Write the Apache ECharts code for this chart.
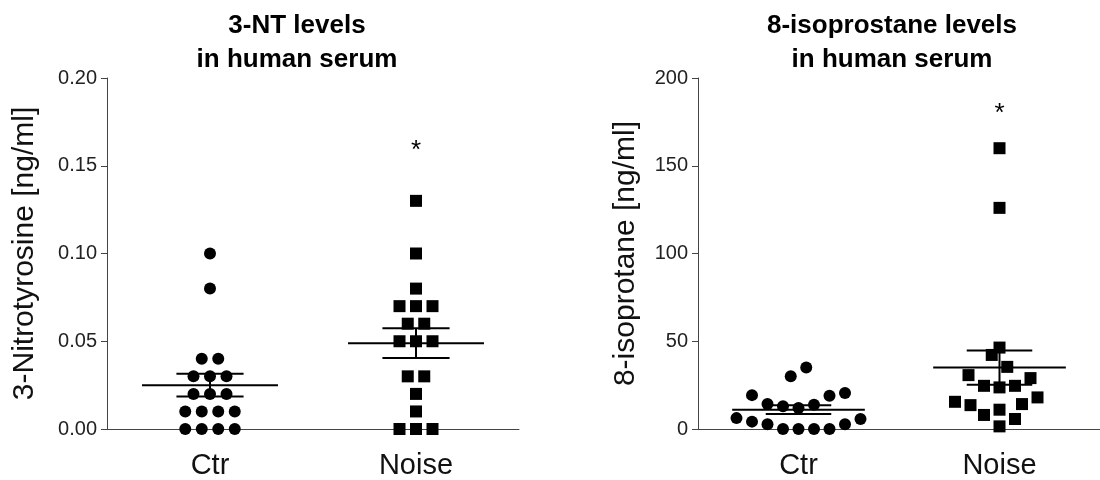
<!DOCTYPE html>
<html>
<head>
<meta charset="utf-8">
<script src="https://cdn.jsdelivr.net/npm/echarts@6.0.0/dist/echarts.min.js"></script>
<style>
  html, body { margin: 0; padding: 0; background: #fff; }
  #chart-container { width: 1100px; height: 480px; }
</style>
</head>
<body>
<div id="chart-container"></div>
<script>
// groups on the x axis
var categories = ['Ctr', 'Noise'];

// 3-Nitrotyrosine [ng/ml]
var ntCtr = [0, 0, 0, 0, 0.01, 0.01, 0.01, 0.01, 0.02, 0.02, 0.02, 0.03, 0.03, 0.03, 0.04, 0.04, 0.08, 0.10];
var ntNoise = [0, 0, 0, 0.01, 0.02, 0.03, 0.03, 0.05, 0.05, 0.05, 0.06, 0.06, 0.07, 0.07, 0.07, 0.08, 0.10, 0.13];
var ntTicks = [0, 0.05, 0.10, 0.15, 0.20];
var ntStar = 0.161;

// 8-isoprostane [ng/ml]
var isoCtr = [0, 0, 0, 0, 2.7, 2.7, 4.2, 5.7, 6.2, 12, 12.9, 13.8, 14.2, 19, 19.3, 20.5, 30, 35];
var isoNoise = [1.5, 5.7, 8, 11, 13.6, 14.2, 15.5, 18, 23.7, 24.6, 24.6, 29, 30.7, 35.4, 42.2, 46.4, 126, 160];
var isoTicks = [0, 50, 100, 150, 200];
var isoStar = 182;

var FONT = '"Liberation Sans", Arial, sans-serif';
var GRID_TOP = 78, GRID_H = 352;

// lay points out side by side like a column scatter (rows, alternating sides)
function swarm(values, cat, pxPerUnit, gap) {
  var sorted = values.slice().sort(function (a, b) { return a - b; });
  var rows = [];
  sorted.forEach(function (v) {
    var last = rows[rows.length - 1];
    if (last && (v - last[0]) * pxPerUnit < gap) last.push(v);
    else rows.push([v]);
  });
  var placed = [];
  var out = [];
  rows.forEach(function (row, r) {
    var side = r % 2 === 0 ? 1 : -1;
    var shift = row.length % 2 === 0 ? -side * gap / 2 : 0;
    var outer = {};
    outer[1] = row.length % 2 === 0 ? null : 0;
    outer[-1] = outer[1];
    var rowPts = [];
    row.forEach(function (v, i) {
      var k = Math.ceil(i / 2) * (i % 2 === 1 ? side : -side);
      var dx = k * gap + shift;
      var dir = dx > 0 ? 1 : (dx < 0 ? -1 : 0);
      if (dir !== 0) {
        if (outer[dir] !== null) dx = dir * Math.max(Math.abs(dx), Math.abs(outer[dir]) + gap);
        var hit = true;
        while (hit) {
          hit = placed.some(function (p) {
            var ddx = dx - p[1], ddy = (v - p[0]) * pxPerUnit;
            return Math.sqrt(ddx * ddx + ddy * ddy) < gap + 1;
          });
          if (hit) dx += dir * 0.5;
        }
        outer[dir] = dx;
      }
      rowPts.push([v, dx]);
      out.push([cat, v, dx]);
    });
    placed = placed.concat(rowPts);
  });
  return out;
}

function meanSem(arr) {
  var n = arr.length;
  var m = arr.reduce(function (a, b) { return a + b; }, 0) / n;
  var ss = arr.reduce(function (a, b) { return a + (b - m) * (b - m); }, 0);
  return [m, Math.sqrt(ss / (n - 1)) / Math.sqrt(n)];
}

function pointItem(kind) {
  return function (params, api) {
    var p = api.coord([api.value(0), api.value(1)]);
    var x = p[0] + api.value(2);
    if (kind === 'circle') {
      return { type: 'circle', shape: { cx: x, cy: p[1], r: 6 }, style: { fill: '#000' } };
    }
    return { type: 'rect', shape: { x: x - 6, y: p[1] - 6, width: 12, height: 12 }, style: { fill: '#000' } };
  };
}

function errItem(params, api) {
  var cat = api.value(0), m = api.value(1), s = api.value(2);
  var c = api.coord([cat, m]);
  var hi = api.coord([cat, m + s])[1];
  var lo = api.coord([cat, m - s])[1];
  var band = api.size([1, 0])[0];
  var w = band * 0.33, cw = band * 0.163;
  var st = { stroke: '#000', lineWidth: 2 };
  return {
    type: 'group',
    children: [
      { type: 'line', shape: { x1: c[0] - w, y1: c[1], x2: c[0] + w, y2: c[1] }, style: st },
      { type: 'line', shape: { x1: c[0] - cw, y1: hi, x2: c[0] + cw, y2: hi }, style: st },
      { type: 'line', shape: { x1: c[0] - cw, y1: lo, x2: c[0] + cw, y2: lo }, style: st },
      { type: 'line', shape: { x1: c[0], y1: hi, x2: c[0], y2: lo }, style: st }
    ]
  };
}

function starItem(params, api) {
  var p = api.coord([api.value(0), api.value(1)]);
  return {
    type: 'text', x: p[0], y: p[1] + 4,
    style: { text: '*', fontSize: 26, fontFamily: FONT, fill: '#000',
      align: 'center', verticalAlign: 'middle', textAlign: 'center', textVerticalAlign: 'middle' }
  };
}

function xAxis(idx) {
  return {
    type: 'category', gridIndex: idx, data: categories, boundaryGap: true,
    axisLine: { lineStyle: { color: '#444', width: 1 } },
    axisTick: { alignWithLabel: true, length: 6, lineStyle: { color: '#444' } },
    axisLabel: { fontSize: 29, color: '#111', fontFamily: FONT, margin: 22 }
  };
}

function yAxis(idx, ticks, name, gap, fmt) {
  return {
    type: 'value', gridIndex: idx,
    min: ticks[0], max: ticks[ticks.length - 1], interval: ticks[1] - ticks[0],
    name: name, nameLocation: 'middle', nameGap: gap,
    nameTextStyle: { fontSize: 30, color: '#111', fontFamily: FONT },
    axisLine: { show: true, lineStyle: { color: '#444', width: 1 } },
    axisTick: { show: true, length: 6, lineStyle: { color: '#444' } },
    axisLabel: { fontSize: 20, color: '#222', fontFamily: FONT, margin: 10, formatter: fmt },
    splitLine: { show: false }
  };
}

var ntPx = GRID_H / (ntTicks[ntTicks.length - 1] - ntTicks[0]);
var isoPx = GRID_H / (isoTicks[isoTicks.length - 1] - isoTicks[0]);
var ntErr = [[0].concat(meanSem(ntCtr)), [1].concat(meanSem(ntNoise))];
var isoErr = [[0].concat(meanSem(isoCtr)), [1].concat(meanSem(isoNoise))];

var myChart = echarts.init(document.getElementById('chart-container'));

var option = {
  animation: false,
  grid: [
    { left: 107, top: GRID_TOP, width: 412, height: GRID_H },
    { left: 698, top: GRID_TOP, width: 414, height: GRID_H }
  ],
  graphic: [
    { type: 'text', x: 297, y: 43, style: { text: '3-NT levels\nin human serum', font: 'bold 26px ' + FONT,
      lineHeight: 34, fill: '#000', align: 'center', verticalAlign: 'middle', textAlign: 'center', textVerticalAlign: 'middle' } },
    { type: 'text', x: 892, y: 43, style: { text: '8-isoprostane levels\nin human serum', font: 'bold 26px ' + FONT,
      lineHeight: 34, fill: '#000', align: 'center', verticalAlign: 'middle', textAlign: 'center', textVerticalAlign: 'middle' } }
  ],
  xAxis: [xAxis(0), xAxis(1)],
  yAxis: [
    yAxis(0, ntTicks, '3-Nitrotyrosine [ng/ml]', 67, function (v) { return v.toFixed(2); }),
    yAxis(1, isoTicks, '8-isoprotane [ng/ml]', 57, function (v) { return v; })
  ],
  series: [
    { name: 'Ctr', type: 'custom', xAxisIndex: 0, yAxisIndex: 0, renderItem: pointItem('circle'), data: swarm(ntCtr, 0, ntPx, 16.5) },
    { name: 'Noise', type: 'custom', xAxisIndex: 0, yAxisIndex: 0, renderItem: pointItem('square'), data: swarm(ntNoise, 1, ntPx, 16.5) },
    { type: 'custom', xAxisIndex: 0, yAxisIndex: 0, renderItem: errItem, data: ntErr, z: 3 },
    { type: 'custom', xAxisIndex: 0, yAxisIndex: 0, renderItem: starItem, data: [[1, ntStar]] },
    { name: 'Ctr', type: 'custom', xAxisIndex: 1, yAxisIndex: 1, renderItem: pointItem('circle'), data: swarm(isoCtr, 0, isoPx, 15.5) },
    { name: 'Noise', type: 'custom', xAxisIndex: 1, yAxisIndex: 1, renderItem: pointItem('square'), data: swarm(isoNoise, 1, isoPx, 15.5) },
    { type: 'custom', xAxisIndex: 1, yAxisIndex: 1, renderItem: errItem, data: isoErr, z: 3 },
    { type: 'custom', xAxisIndex: 1, yAxisIndex: 1, renderItem: starItem, data: [[1, isoStar]] }
  ]
};

myChart.setOption(option);
</script>
</body>
</html>
